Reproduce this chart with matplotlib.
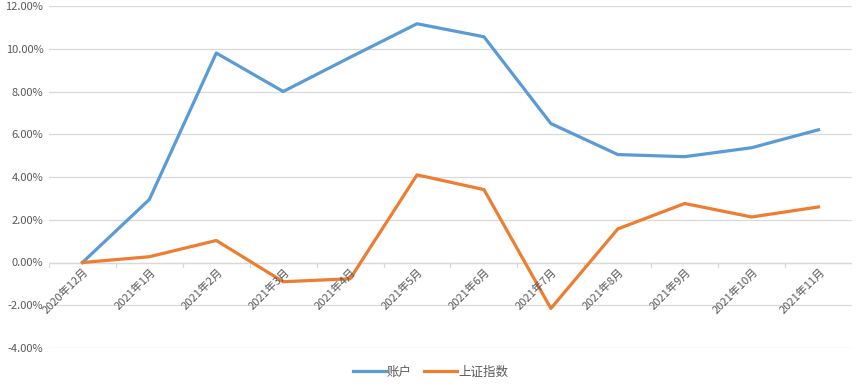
import matplotlib
matplotlib.use("Agg")
import matplotlib.pyplot as plt
from matplotlib.ticker import FuncFormatter

plt.rcParams["font.family"] = ["Noto Sans CJK SC", "DejaVu Sans"]
plt.rcParams["axes.unicode_minus"] = False

months = ["2020年12月", "2021年1月", "2021年2月", "2021年3月", "2021年4月", "2021年5月",
          "2021年6月", "2021年7月", "2021年8月", "2021年9月", "2021年10月", "2021年11月"]
account = [0.0, 2.95, 9.8, 8.0, 9.6, 11.17, 10.56, 6.5, 5.05, 4.95, 5.37, 6.21]
sh_index = [0.0, 0.27, 1.03, -0.9, -0.76, 4.1, 3.41, -2.15, 1.57, 2.76, 2.13, 2.6]

C_BLUE = "#5B9BD5"
C_ORANGE = "#ED7D31"
C_TEXT = "#595959"
C_GRID = "#D9D9D9"

fig = plt.figure(figsize=(8.61, 3.88), dpi=100)
ax = fig.add_axes([49 / 861, 1 - 348 / 388, (852 - 49) / 861, (348 - 6) / 388])

x = list(range(len(months)))
ax.plot(x, account, color=C_BLUE, lw=2.3, label="账户", solid_joinstyle="round")
ax.plot(x, sh_index, color=C_ORANGE, lw=2.3, label="上证指数", solid_joinstyle="round")

ax.set_xlim(-0.5, len(months) - 0.5)
ax.set_ylim(-4, 12)
ax.set_yticks(range(-4, 13, 2))
ax.yaxis.set_major_formatter(FuncFormatter(lambda v, p: f"{v:.2f}%"))
ax.grid(axis="y", color=C_GRID, lw=0.9)
ax.set_axisbelow(True)
for s in ax.spines.values():
    s.set_visible(False)
ax.tick_params(axis="y", length=0, labelsize=8, labelcolor=C_TEXT, pad=4)
ax.set_xticks([])

# 分类标签挂在 0 轴上，刻度线在分类边界
for i, m in enumerate(months):
    ax.annotate(m, xy=(i, 0), xytext=(0.5, -3), textcoords="offset points",
                rotation=45, ha="right", va="top", rotation_mode="anchor",
                fontsize=8, color=C_TEXT, annotation_clip=False)
for b in [i - 0.5 for i in range(len(months) + 1)]:
    ax.plot([b, b], [0, -0.22], color=C_GRID, lw=0.9, zorder=0)
ax.axhline(0, color=C_GRID, lw=0.9, zorder=0)

leg = fig.legend(loc="lower center", bbox_to_anchor=(0.5, -0.005), ncol=2, frameon=False,
                 fontsize=9, handlelength=2.6, columnspacing=1.0, handletextpad=0.1)
for t in leg.get_texts():
    t.set_color(C_TEXT)

fig.savefig("out.png", dpi=100)
